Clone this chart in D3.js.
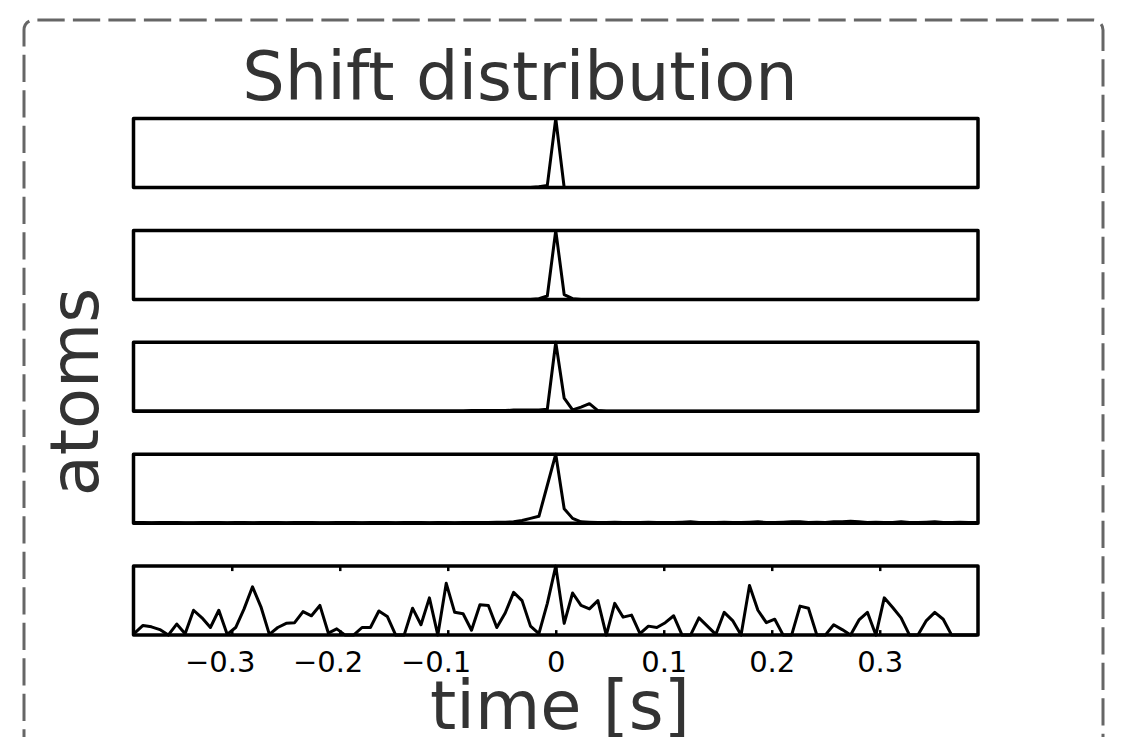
<!DOCTYPE html>
<html><head><meta charset="utf-8">
<script src="https://cdn.jsdelivr.net/npm/d3@7"></script>
<style>body{margin:0;background:#fff;} svg{display:block}</style>
</head><body><svg id="c" width="1137" height="737"></svg>
<script>
// ---- data ----
const binStart = -0.39, binStep = 0.0078, nBins = 101;
const xTicks = [-0.3, -0.2, -0.1, 0, 0.1, 0.2, 0.3];
const tickLabels = ["\u22120.3", "\u22120.2", "\u22120.1", "0", "0.1", "0.2", "0.3"];
const titleText = "Shift distribution";
const yLabel = "atoms";
const xLabel = "time [s]";

const series1 = [
 0,0,0,0,0,0,0,0,0,0,
 0,0,0,0,0,0,0,0,0,0,
 0,0,0,0,0,0,0,0,0,0,
 0,0,0,0,0,0,0,0,0,0,
 0,0,0,0,0,0,0,0,0.01,0.03,
 1,0,0,0,0,0,0,0,0,0,
 0,0,0,0,0,0,0,0,0,0,
 0,0,0,0,0,0,0,0,0,0,
 0,0,0,0,0,0,0,0,0,0,
 0,0,0,0,0,0,0,0,0,0,
 0];
const series2 = [
 0,0,0,0,0,0,0,0,0,0,
 0,0,0,0,0,0,0,0,0,0,
 0,0,0,0,0,0,0,0,0,0,
 0,0,0,0,0,0,0,0,0,0,
 0,0,0,0,0,0,0,0,0.01,0.05,
 1,0.07,0.01,0,0,0,0,0,0,0,
 0,0,0,0,0,0,0,0,0,0,
 0,0,0,0,0,0,0,0,0,0,
 0,0,0,0,0,0,0,0,0,0,
 0,0,0,0,0,0,0,0,0,0,
 0];
const series3 = [
 0.005,0.005,0.005,0.005,0.005,0.005,0.005,0.005,0.005,0.005,
 0.005,0.005,0.005,0.005,0.005,0.005,0.005,0.005,0.005,0.005,
 0.005,0.005,0.005,0.005,0.005,0.005,0.005,0.005,0.005,0.005,
 0.005,0.005,0.005,0.005,0.005,0.005,0.005,0.005,0.005,0.005,
 0.01,0.01,0.01,0.01,0.01,0.02,0.02,0.02,0.02,0.03,
 1,0.19,0.02,0.06,0.11,0.01,0,0,0,0,
 0,0,0,0,0,0,0,0,0,0,
 0,0,0,0,0,0,0,0,0,0,
 0,0,0,0,0,0,0,0,0,0,
 0,0,0,0,0,0,0,0,0,0,
 0];
const series4 = [
 0.01,0.01,0.005,0.01,0.01,0.01,0.005,0.005,0.01,0.01,
 0.01,0.005,0.01,0.01,0.005,0.01,0.01,0.01,0.005,0.01,
 0.01,0.01,0.005,0.005,0.01,0.01,0.01,0.005,0.01,0.01,
 0.01,0.005,0.01,0.01,0.01,0.005,0.01,0.01,0.005,0.01,
 0.01,0.01,0.01,0.015,0.015,0.02,0.04,0.07,0.10,0.55,
 1,0.21,0.07,0.02,0.015,0.01,0.01,0.015,0.01,0.01,
 0.01,0.015,0.01,0.01,0.01,0.015,0.02,0.01,0.01,0.01,
 0.015,0.01,0.01,0.015,0.02,0.01,0.01,0.015,0.02,0.02,
 0.01,0.015,0.01,0.02,0.02,0.03,0.02,0.01,0.015,0.01,
 0.01,0.02,0.01,0.01,0.015,0.02,0.01,0.01,0.015,0.01,
 0.01];
const series5 = [
 0.03,0.14,0.12,0.08,0.0,0.16,0.02,0.36,0.25,0.11,
 0.36,0.01,0.11,0.38,0.70,0.41,0.01,0.11,0.17,0.18,
 0.34,0.28,0.43,0.03,0.09,0.0,0.0,0.11,0.11,0.35,
 0.27,0.0,0.0,0.39,0.15,0.54,0.0,0.75,0.33,0.31,
 0.07,0.44,0.43,0.11,0.32,0.62,0.50,0.13,0.02,0.46,
 1.0,0.17,0.61,0.43,0.38,0.50,0.0,0.46,0.26,0.29,
 0.02,0.13,0.11,0.18,0.28,0.0,0.0,0.25,0.13,0.01,
 0.33,0.21,0.0,0.72,0.36,0.18,0.23,0.0,0.0,0.42,
 0.39,0.0,0.0,0.15,0.08,0.0,0.22,0.33,0.0,0.54,
 0.40,0.25,0.0,0.0,0.21,0.33,0.23,0.0,0.0,0.0,
 0.0];
const allSeries = [series1, series2, series3, series4, series5];

// ---- layout ----
const svg = d3.select("#c");
const plotLeft = 133.5, plotRight = 978;
const panelTop0 = 118.5, panelStep = 111.9, panelH = 69;
const x = d3.scaleLinear().domain([-0.391, 0.391]).range([plotLeft, plotRight]);
const y = d3.scaleLinear().domain([0, 1]).range([panelH, 0]);
const binX = i => binStart + i * binStep;
const tickFont = "DejaVu Sans", tickSize = 29;

// dashed rounded border
const bx0 = 24, by0 = 20, bx1 = 1103, byEnd = 760, r = 10;
svg.append("path")
  .attr("d", `M${bx0},${byEnd} L${bx0},${by0 + r} A${r},${r} 0 0 1 ${bx0 + r},${by0} L${bx1 - r},${by0} A${r},${r} 0 0 1 ${bx1},${by0 + r} L${bx1},${byEnd}`)
  .attr("fill", "none")
  .attr("stroke", "#666")
  .attr("stroke-width", 3)
  .attr("stroke-dasharray", "27.3,8.2")
  .attr("stroke-dashoffset", -3.5);

// title & labels
svg.append("text").attr("x", 520).attr("y", 100)
  .attr("text-anchor", "middle")
  .style("font-family", "DejaVu Sans").style("font-size", "67px").attr("fill", "#333")
  .text(titleText);
svg.append("text").attr("transform", "translate(98,392) rotate(-90)")
  .attr("text-anchor", "middle")
  .style("font-family", "DejaVu Sans").style("font-size", "67px").attr("fill", "#333")
  .text(yLabel);
svg.append("text").attr("x", 560).attr("y", 729)
  .attr("text-anchor", "middle")
  .style("font-family", "DejaVu Sans").style("font-size", "67px").attr("fill", "#333")
  .text(xLabel);

const line = d3.line()
  .x((d, i) => x(binX(i)))
  .y(d => y(d));

allSeries.forEach((s, k) => {
  const g = svg.append("g").attr("transform", `translate(0,${panelTop0 + k * panelStep})`);
  if (k === allSeries.length - 1) {
    const ab = g.append("g").attr("transform", `translate(0,${panelH})`)
      .call(d3.axisBottom(x).tickValues(xTicks).tickSize(-5).tickPadding(16)
        .tickFormat((d, i) => tickLabels[i]));
    const at = g.append("g")
      .call(d3.axisTop(x).tickValues(xTicks).tickSize(-5).tickFormat(""));
    at.selectAll(".tick text").remove();
    [ab, at].forEach(a => {
      a.select(".domain").remove();
      a.selectAll(".tick line").attr("stroke", "#000").attr("stroke-width", 2.5);
    });
    ab.selectAll(".tick text")
      .style("font-family", tickFont).style("font-size", tickSize + "px").attr("fill", "#000")
      .each(function (d, i) {
        const lbl = tickLabels[i];
        if (lbl.startsWith("\u2212")) {
          const L = this.getComputedTextLength();
          const tmp = svg.append("text").style("font-family", tickFont)
            .style("font-size", tickSize + "px").text(lbl.slice(1));
          const N = tmp.node().getComputedTextLength();
          tmp.remove();
          d3.select(this).attr("x", (N - L) / 2);
        }
      });
  }
  g.append("path").datum(s).attr("d", line)
    .attr("fill", "none").attr("stroke", "#000").attr("stroke-width", 3)
    .attr("stroke-linejoin", "round");
  g.append("rect").attr("x", plotLeft).attr("y", 0)
    .attr("width", plotRight - plotLeft).attr("height", panelH)
    .attr("fill", "none").attr("stroke", "#000").attr("stroke-width", 3.5)
    .attr("stroke-linejoin", "round");
});
</script></body></html>
